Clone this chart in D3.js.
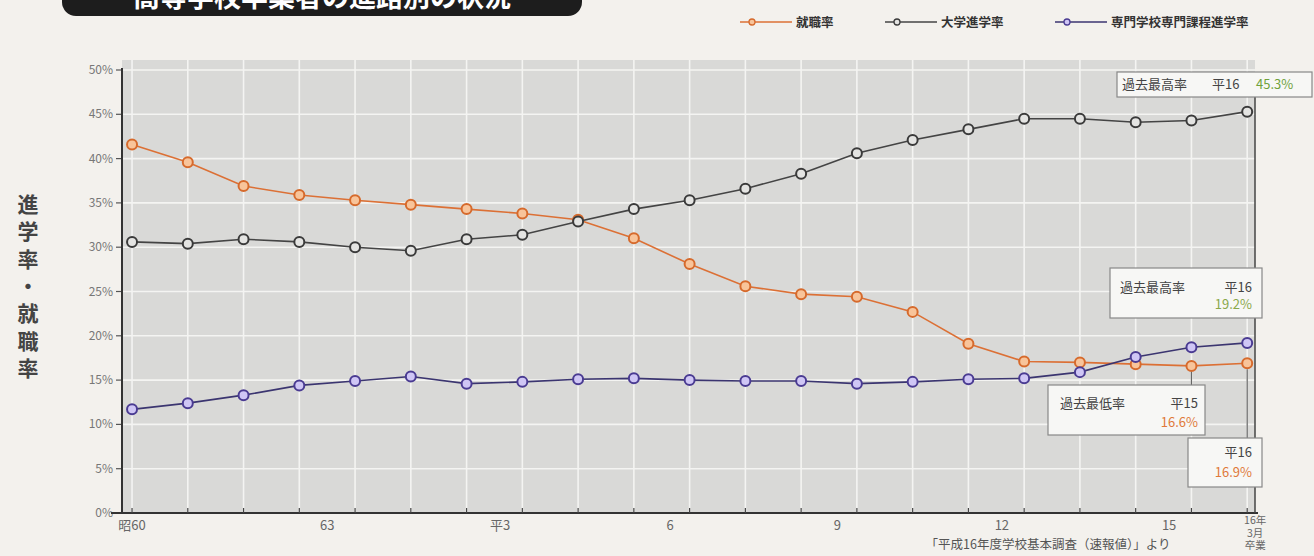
<!DOCTYPE html>
<html><head>
<meta charset="utf-8">
<title>高等学校卒業者の進路別の状況</title>
<script src="https://d3js.org/d3.v7.min.js"></script>
<style>
  body { margin: 0; background: #f3f1ed; }
  text { font-family: "Noto Sans CJK JP", "Noto Sans", sans-serif; }
  .grid line { stroke: #f4f4f2; stroke-width: 1.6px; }
  .ytick text { fill: #777; font-size: 12px; }
  .xlab { fill: #666; font-size: 13px; text-anchor: middle; }
  .note { font-size: 13px; fill: #444; }
</style>
</head>
<body>
<svg id="chart" width="1314" height="556"></svg>

<script>
// years on the x axis (昭和59 .. 平成16, one point each)
const years = ["昭59","昭60","昭61","昭62","昭63","平1","平2","平3","平4","平5","平6",
               "平7","平8","平9","平10","平11","平12","平13","平14","平15","平16"];

// 就職率
const employment = [41.6, 39.6, 36.9, 35.9, 35.3, 34.8, 34.3, 33.8, 33.1, 31.0, 28.1,
                    25.6, 24.7, 24.4, 22.7, 19.1, 17.1, 17.0, 16.8, 16.6, 16.9];
// 大学進学率
const university = [30.6, 30.4, 30.9, 30.6, 30.0, 29.6, 30.9, 31.4, 32.9, 34.3, 35.3,
                    36.6, 38.3, 40.6, 42.1, 43.3, 44.5, 44.5, 44.1, 44.3, 45.3];
// 専門学校専門課程進学率
const vocational = [11.7, 12.4, 13.3, 14.4, 14.9, 15.4, 14.6, 14.8, 15.1, 15.2, 15.0,
                    14.9, 14.9, 14.6, 14.8, 15.1, 15.2, 15.9, 17.6, 18.7, 19.2];

// labels under the axis, as printed (position given in year index)
const xTickAt   = [0, 3.5, 6.6, 9.65, 12.65, 15.6, 18.6];
const xTickText = ["昭60", "63", "平3", "6", "9", "12", "15"];
const yTicks = [0, 5, 10, 15, 20, 25, 30, 35, 40, 45, 50];

const seriesNames = ["就職率", "大学進学率", "専門学校専門課程進学率"];

const svg = d3.select("#chart");

// ---- scales
const x = d3.scaleLinear().domain([-0.18, 20.14]).range([122, 1255]);
const y = d3.scaleLinear().domain([0, 50]).range([513, 70]);

// ---- title banner (cut at top of the page)
svg.append("rect")
   .attr("x", 62).attr("y", -30).attr("width", 520).attr("height", 46)
   .attr("rx", 14).attr("fill", "#1d1d1d");
svg.append("text")
   .attr("x", 322).attr("y", 7)
   .attr("text-anchor", "middle")
   .attr("fill", "#fff").attr("font-size", 27).attr("font-weight", "bold")
   .text("高等学校卒業者の進路別の状況");

// ---- plot background + grid
svg.append("rect")
   .attr("x", x.range()[0]).attr("y", 60)
   .attr("width", x.range()[1] - x.range()[0]).attr("height", y(0) - 60)
   .attr("fill", "#d9d9d7");

const grid = svg.append("g").attr("class", "grid");
grid.selectAll("line.h").data(yTicks.slice(1))
    .join("line").attr("class", "h")
    .attr("x1", x.range()[0]).attr("x2", x.range()[1])
    .attr("y1", d => y(d)).attr("y2", d => y(d));
grid.selectAll("line.v").data(years)
    .join("line").attr("class", "v")
    .attr("x1", (d, i) => x(i)).attr("x2", (d, i) => x(i))
    .attr("y1", 60).attr("y2", y(0));

// ---- axes
const yAxis = svg.append("g").attr("class", "ytick");
yAxis.selectAll("line").data(yTicks).join("line")
     .attr("x1", x.range()[0] - 6).attr("x2", x.range()[0])
     .attr("y1", d => y(d)).attr("y2", d => y(d))
     .attr("stroke", "#555").attr("stroke-width", 1.2);
yAxis.selectAll("text").data(yTicks).join("text")
     .attr("x", x.range()[0] - 9).attr("y", d => y(d) + 4)
     .attr("text-anchor", "end")
     .text(d => d + "%");
svg.append("line")
   .attr("x1", x.range()[0]).attr("x2", x.range()[0])
   .attr("y1", y(50) - 2).attr("y2", y(0))
   .attr("stroke", "#333").attr("stroke-width", 2);

svg.append("line")
   .attr("x1", x.range()[0] - 11).attr("x2", x.range()[1] + 3)
   .attr("y1", y(0)).attr("y2", y(0))
   .attr("stroke", "#333").attr("stroke-width", 2);
svg.selectAll("line.xtick").data(years).join("line")
   .attr("class", "xtick")
   .attr("x1", (d, i) => x(i)).attr("x2", (d, i) => x(i))
   .attr("y1", y(0)).attr("y2", y(0) - 5)
   .attr("stroke", "#444").attr("stroke-width", 1.2);

// right edge line of the plot
svg.append("line")
   .attr("x1", x.range()[1]).attr("x2", x.range()[1])
   .attr("y1", 93).attr("y2", y(0))
   .attr("stroke", "#444").attr("stroke-width", 1.5);

svg.selectAll("text.xlab").data(xTickText).join("text")
   .attr("class", "xlab")
   .attr("x", (d, i) => x(xTickAt[i]))
   .attr("y", 530)
   .text(d => d);

// last year label: 16年 / 3月 / 卒業
const lastLab = svg.append("text").attr("class", "xlab")
   .style("font-size", "10.5px");
["16年", "3月", "卒業"].forEach((t, i) => {
  lastLab.append("tspan").attr("x", x(20) + 8).attr("y", 524 + i * 12.5).text(t);
});

// source note
svg.append("text")
   .attr("x", 1048).attr("y", 549)
   .attr("text-anchor", "middle")
   .attr("fill", "#555").attr("font-size", 12.5)
   .text("「平成16年度学校基本調査（速報値）」より");

// vertical y-axis title
const yTitle = svg.append("text")
   .attr("fill", "#444").attr("font-size", 21).attr("font-weight", "bold")
   .attr("text-anchor", "middle");
"進学率・就職率".split("").forEach((c, i) => {
  yTitle.append("tspan").attr("x", 28).attr("y", 212 + i * 27.3).text(c);
});

// ---- series
const series = [
  { name: seriesNames[0], values: employment, line: "#dc7035", fill: "#f8c49a", stroke: "#d66a2c" },
  { name: seriesNames[1], values: university, line: "#444", fill: "#e4e4e2", stroke: "#3a3a3a" },
  { name: seriesNames[2], values: vocational, line: "#3b3570", fill: "#cfc6f5", stroke: "#4a3b92" }
];

const line = d3.line().x((d, i) => x(i)).y(d => y(d));

series.forEach(s => {
  svg.append("path")
     .attr("d", line(s.values))
     .attr("fill", "none")
     .attr("stroke", s.line)
     .attr("stroke-width", 1.6);
  svg.append("g").selectAll("circle").data(s.values).join("circle")
     .attr("cx", (d, i) => x(i)).attr("cy", d => y(d))
     .attr("r", 5)
     .attr("fill", s.fill)
     .attr("stroke", s.stroke)
     .attr("stroke-width", 2);
});

// ---- legend
const legendX = [740, 885, 1055];
const legend = svg.append("g");
series.forEach((s, i) => {
  const g = legend.append("g").attr("transform", "translate(" + legendX[i] + ",22)");
  g.append("line").attr("x1", 0).attr("x2", 52).attr("y1", 0).attr("y2", 0)
   .attr("stroke", s.line).attr("stroke-width", 1.3);
  g.append("circle").attr("cx", 12).attr("cy", 0).attr("r", 3)
   .attr("fill", s.fill).attr("stroke", s.stroke).attr("stroke-width", 1.3);
  g.append("text").attr("x", 56).attr("y", 4.5)
   .attr("font-size", 12.5).attr("font-weight", "bold").attr("fill", "#333")
   .text(s.name);
});

// ---- annotation boxes
function noteBox(x0, y0, w, h) {
  svg.append("rect").attr("x", x0).attr("y", y0).attr("width", w).attr("height", h)
     .attr("fill", "#f7f7f5").attr("stroke", "#888").attr("stroke-width", 1.2);
}
function leader(i, v, yBox) {
  svg.append("line").attr("x1", x(i)).attr("x2", x(i))
     .attr("y1", y(v) + 6).attr("y2", yBox)
     .attr("stroke", "#666").attr("stroke-width", 1.2);
}

// 大学進学率 max
noteBox(1117, 72, 195, 25);
svg.append("text").attr("class", "note").attr("x", 1122).attr("y", 89).text("過去最高率");
svg.append("text").attr("class", "note").attr("x", 1212).attr("y", 89).text("平16");
svg.append("text").attr("class", "note").attr("x", 1256).attr("y", 89)
   .style("fill", "#6fa23c").text(university[20] + "%");

// 専門学校 max
noteBox(1110, 268, 152, 50);
svg.append("text").attr("class", "note").attr("x", 1120).attr("y", 292).text("過去最高率");
svg.append("text").attr("class", "note").attr("x", 1252).attr("y", 292)
   .attr("text-anchor", "end").text("平16");
svg.append("text").attr("class", "note").attr("x", 1252).attr("y", 309)
   .attr("text-anchor", "end").style("fill", "#8aa84a").text(vocational[20] + "%");

// 就職率 min (平15)
leader(19, employment[19], 385);
noteBox(1048, 385, 157, 50);
svg.append("text").attr("class", "note").attr("x", 1060).attr("y", 408).text("過去最低率");
svg.append("text").attr("class", "note").attr("x", 1198).attr("y", 408)
   .attr("text-anchor", "end").text("平15");
svg.append("text").attr("class", "note").attr("x", 1198).attr("y", 427)
   .attr("text-anchor", "end").style("fill", "#e07a3a").text(employment[19] + "%");

// 就職率 平16
leader(20, employment[20], 438);
noteBox(1188, 438, 74, 49);
svg.append("text").attr("class", "note").attr("x", 1252).attr("y", 457)
   .attr("text-anchor", "end").text("平16");
svg.append("text").attr("class", "note").attr("x", 1252).attr("y", 477)
   .attr("text-anchor", "end").style("fill", "#e07a3a").text(employment[20] + "%");
</script>
</body>
</html>
